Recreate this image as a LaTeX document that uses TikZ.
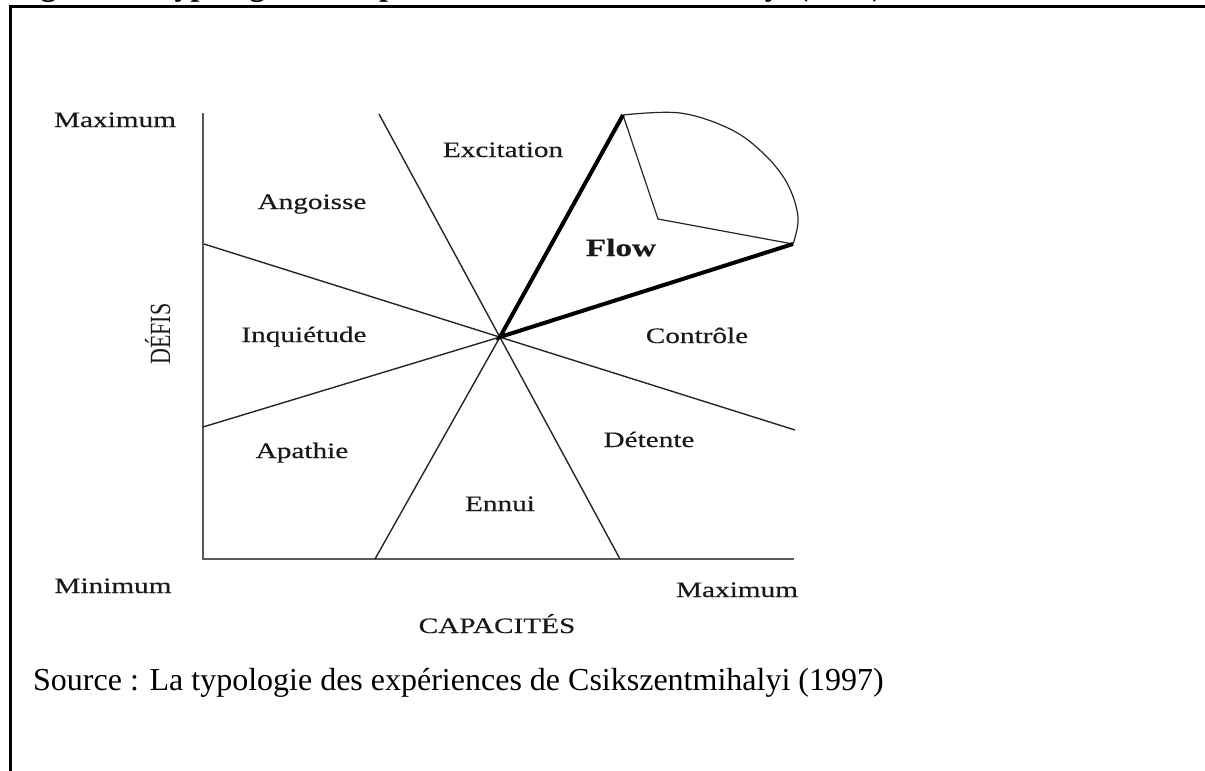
\documentclass[tikz,border=0pt]{standalone}
\usepackage{fontspec}
\setmainfont{Liberation Serif}
\newfontfamily\scanfont[FakeStretch=1.33,FakeBold=0.35]{Liberation Serif}
\begin{document}
\begin{tikzpicture}[x=1pt,y=-1pt,
  lbl/.style={font=\scanfont\fontsize{22}{26}\selectfont, text=black!90, inner sep=0pt, anchor=base},
  thinline/.style={line width=1.4pt, black!85},
  boldline/.style={line width=4pt, black},
  axisline/.style={line width=2pt, black!65},
]
\useasboundingbox (0,0) rectangle (1205,771);
\fill[white] (0,0) rectangle (1205,771);
\begin{scope}
\clip (0,0) rectangle (1205,771);
\node[anchor=base west, inner sep=0pt, font=\bfseries\fontsize{32}{36}\selectfont] (title) at (12,-5) {Figure 2 : Typologie des expériences de Csikszentmihalyi (1997)};
\end{scope}
% frame
\coordinate (FrBL) at (10,771);
\coordinate (FrTL) at (10,6.5);
\coordinate (FrTR) at (1205,6.5);
\draw[line width=3pt] (FrBL) -- (FrTL) -- (FrTR);
% geometry
\coordinate (O) at (500,337);
\coordinate (Ytop) at (203,113);
\coordinate (Orig) at (203,559);
\coordinate (Xend) at (794,559);
\coordinate (A1) at (379,114); \coordinate (A2) at (620,559);
\coordinate (B1) at (204,244); \coordinate (B2) at (795,430);
\coordinate (C1) at (203,427); \coordinate (C2) at (793,244);
\coordinate (D1) at (375,559); \coordinate (D2) at (623,115);
\coordinate (F) at (658,219);
\draw[axisline] (Ytop) -- (Orig) -- (Xend);
\draw[thinline] (A1) -- (A2);
\draw[thinline] (B1) -- (B2);
\draw[thinline] (C1) -- (O);
\draw[thinline] (D1) -- (O);
\draw[thinline, line width=1.2pt] (D2) -- (F) -- (C2);
\draw[thinline, line width=1.2pt] plot[smooth, tension=0.6] coordinates {(623,115) (680,113) (730,129) (763,153) (787,183) (798,217) (793,244)};
\draw[boldline] (D2) -- (O) -- (C2);
% labels
\node[lbl] (maxy) at (115,127) {Maximum};
\node[lbl] (exc) at (503,157) {Excitation};
\node[lbl] (ang) at (312,209) {Angoisse};
\node[lbl, font=\scanfont\bfseries\fontsize{25}{28}\selectfont] (flow) at (621,256) {Flow};
\node[lbl] (inq) at (304,342) {Inquiétude};
\node[lbl] (ctrl) at (697,343) {Contrôle};
\node[lbl] (det) at (649,447) {Détente};
\node[lbl] (apa) at (302,458) {Apathie};
\node[lbl] (ennui) at (500,511) {Ennui};
\node[lbl] (minx) at (113,593) {Minimum};
\node[lbl] (maxx) at (737,597) {Maximum};
\node[lbl] (cap) at (497,633) {CAPACITÉS};
\node[lbl, font=\fontsize{22}{26}\selectfont, rotate=90] (defis) at (170,334) {\scalebox{1}[1.33]{DÉFIS}};
\node[anchor=base west, inner sep=0pt, font=\fontsize{32}{36}\selectfont] (src) at (33,690) {Source : La typologie des expériences de Csikszentmihalyi (1997)};
\end{tikzpicture}
\end{document}
